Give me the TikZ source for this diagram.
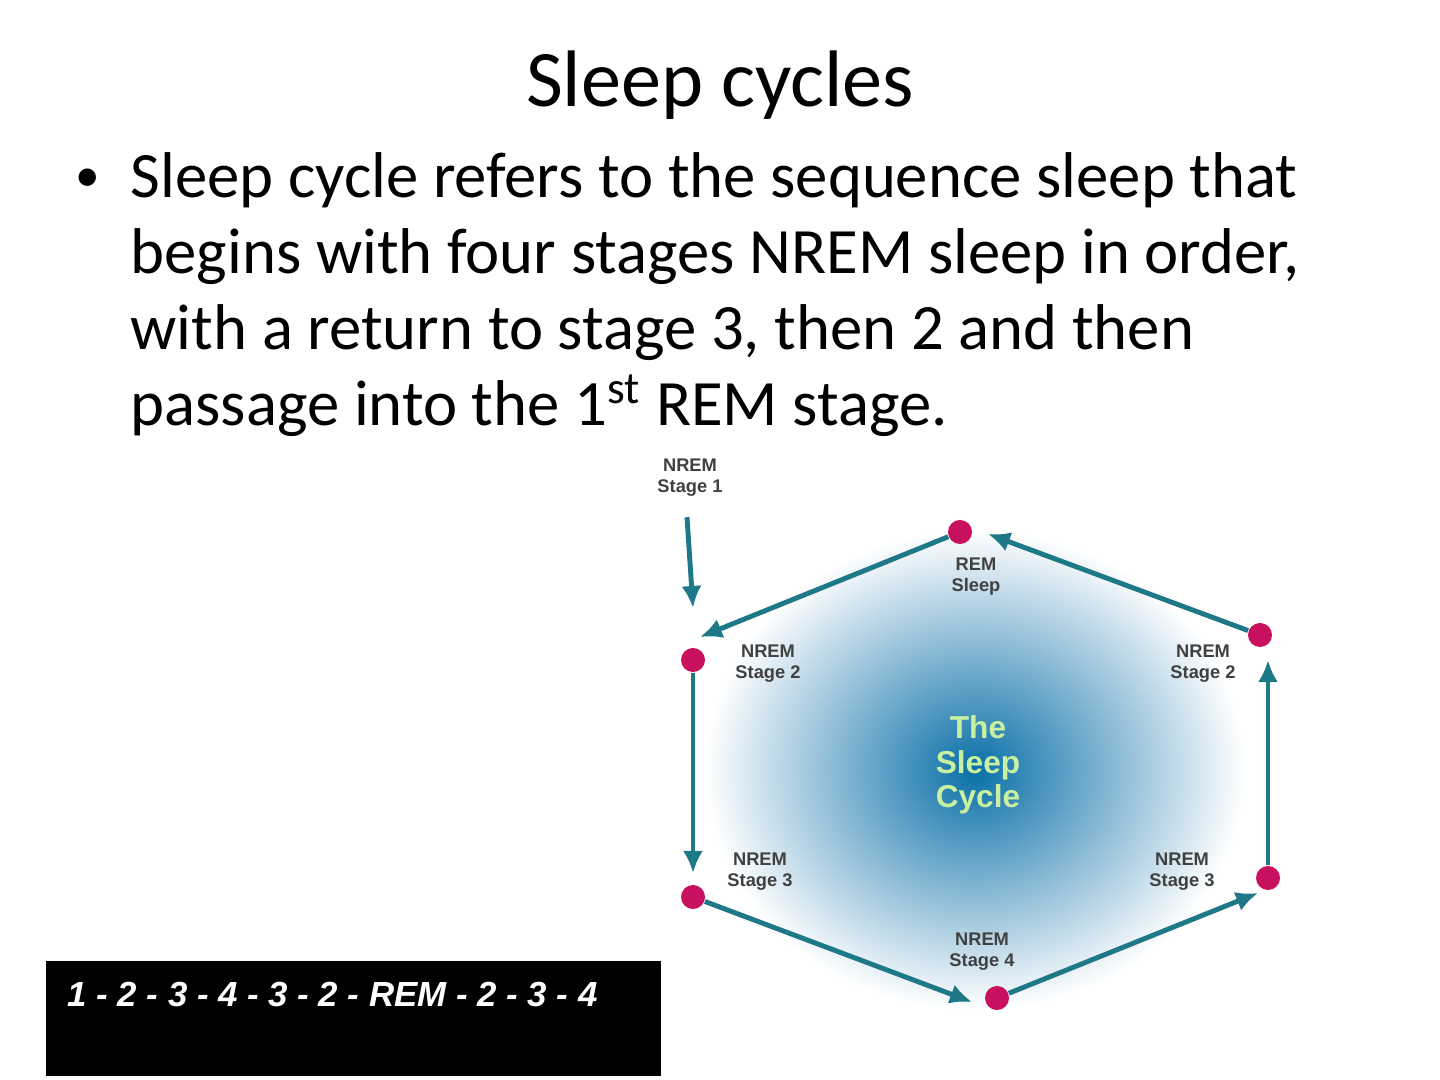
\documentclass[tikz,border=0pt]{standalone}
\usepackage{fontspec}
\setmainfont{Carlito}
\setsansfont{Liberation Sans}
\usetikzlibrary{arrows.meta}
\definecolor{cyclearrow}{HTML}{1E7888}
\definecolor{stagedot}{HTML}{C8115E}
\definecolor{cycleblue}{HTML}{0A6FA8}
\definecolor{cycletext}{HTML}{C8F0A0}
\tikzset{
	stagedot/.style={circle, fill=stagedot, inner sep=0pt, minimum width=2.4mm},
	stagelabel/.style={font=\sffamily\bfseries\fontsize{5.2}{6}\selectfont, align=center, text=black!75},
	bodyline/.style={anchor=base west, inner sep=0pt, font=\fontsize{18.4}{22}\selectfont},
	cyclearrow/.style={-{Latex[length=2.2mm,width=2mm]}, draw=cyclearrow, line width=1.4pt}
}
\begin{document}
\begin{tikzpicture}[x=0.01cm, y=-0.01cm]
	\useasboundingbox (0,0) rectangle (1440,1080);
	% blurred centre
	\shade[inner color=cycleblue, outer color=white] (975,770) ellipse (270 and 240);
	% title and text
	\node (title) at (720,85) {\fontsize{22.8}{26}\selectfont Sleep cycles};
	\node[bodyline] (lineone) at (130,198) {Sleep cycle refers to the sequence sleep that};
	\node[bodyline] (linetwo) at (130,274) {begins with four stages NREM sleep in order,};
	\node[bodyline] (linethree) at (130,350) {with a return to stage 3, then 2 and then};
	\node[bodyline] (linefour) at (130,426) {passage into the 1\textsuperscript{st} REM stage.};
	\node (bullet) at (88,180) {\fontsize{14}{18}\selectfont •};
	% sequence box
	\node[fill=black, minimum width=6.15cm, minimum height=1.15cm, anchor=north west] (seqbox) at (45,960) {};
	\node[anchor=west, text=white] (seq) at (55,995) {\sffamily\bfseries\itshape\fontsize{9.9}{12}\selectfont 1 - 2 - 3 - 4 - 3 - 2 - REM - 2 - 3 - 4};
	% stages
	\node[stagedot] (rem) at (960,532) {};
	\node[stagedot] (rtwo) at (1260,635) {};
	\node[stagedot] (rthree) at (1268,878) {};
	\node[stagedot] (four) at (997,998) {};
	\node[stagedot] (lthree) at (693,897) {};
	\node[stagedot] (ltwo) at (693,660) {};
	\node[stagelabel] (sone) at (690,478) {NREM\\Stage 1};
	\node[stagelabel] (lrem) at (976,577) {REM\\Sleep};
	\node[stagelabel] (lltwo) at (768,664) {NREM\\Stage 2};
	\node[stagelabel] (lrtwo) at (1203,664) {NREM\\Stage 2};
	\node[stagelabel] (llthree) at (760,872) {NREM\\Stage 3};
	\node[stagelabel] (lrthree) at (1182,872) {NREM\\Stage 3};
	\node[stagelabel] (lfour) at (982,952) {NREM\\Stage 4};
	\node[align=center, text=cycletext, font=\sffamily\bfseries\fontsize{9}{9.8}\selectfont] (centre) at (978,765) {The\\Sleep\\Cycle};
	% arrow ends
	\coordinate (eltwo) at (693,608);
	\coordinate (eltwob) at (700,637);
	\coordinate (elthree) at (693,873);
	\coordinate (efour) at (972,1002);
	\coordinate (erthree) at (1258,893);
	\coordinate (ertwo) at (1268,660);
	\coordinate (erem) at (988,534);
	% connectors
	\draw[cyclearrow] (sone.south) ++(-3,8) -- (eltwo);
	\draw[cyclearrow] (rem) -- (eltwob);
	\draw[cyclearrow] (ltwo) -- (elthree);
	\draw[cyclearrow] (lthree) -- (efour);
	\draw[cyclearrow] (four) -- (erthree);
	\draw[cyclearrow] (rthree) -- (ertwo);
	\draw[cyclearrow] (rtwo) -- (erem);
\end{tikzpicture}
\end{document}
